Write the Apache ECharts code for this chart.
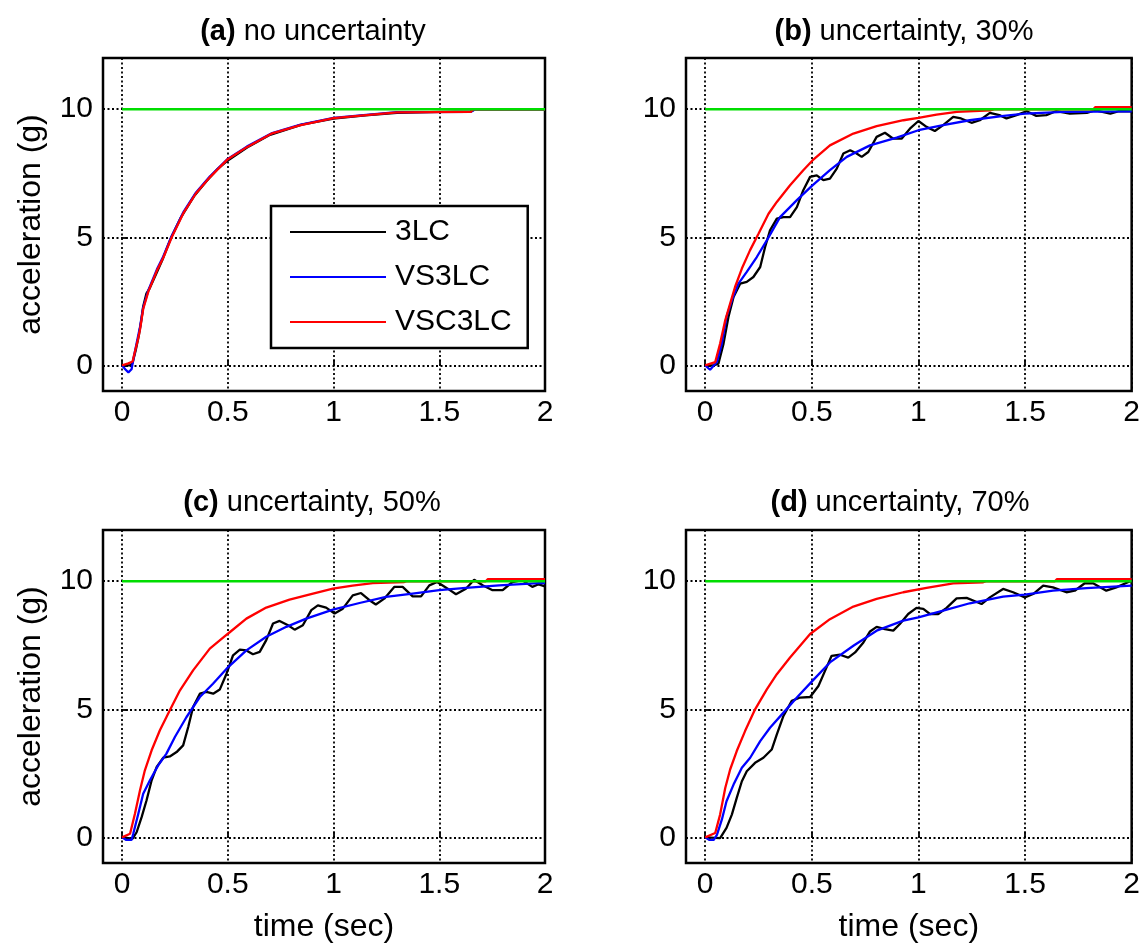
<!DOCTYPE html>
<html><head><meta charset="utf-8">
<script src="https://cdn.jsdelivr.net/npm/echarts@6/dist/echarts.min.js"></script>
<style>html,body{margin:0;padding:0;background:#fff}#c{width:1143px;height:946px}</style>
</head><body><div id="c"></div>
<script>
const xTicks = [0, 0.5, 1, 1.5, 2];
const yTicks = [0, 5, 10];
const panelTags = ['(a)', '(b)', '(c)', '(d)'];
const panelTitles = ['no uncertainty', 'uncertainty, 30%', 'uncertainty, 50%', 'uncertainty, 70%'];
const seriesNames = ['3LC', 'VS3LC', 'VSC3LC'];
const reference = [[0, 10], [2, 10]];

// (a) no uncertainty
const a3LC = [[0,0],[0.04,0],[0.05,0.1],[0.065,0.6],[0.08,1.2],[0.09,1.7],[0.1,2.3],[0.115,2.8],[0.13,3.0],[0.16,3.55],[0.19,4.1],[0.23,4.95],[0.28,5.8],[0.34,6.6],[0.4,7.2],[0.45,7.65],[0.5,8.0],[0.6,8.55],[0.7,9.0],[0.85,9.4],[1.0,9.63],[1.15,9.76],[1.3,9.86],[1.5,9.9],[1.65,9.92],[1.67,10],[2,10]];
const aVS3LC = [[0,0],[0.015,-0.15],[0.03,-0.27],[0.045,-0.15],[0.055,0.3],[0.07,0.9],[0.085,1.5],[0.1,2.25],[0.125,2.95],[0.165,3.75],[0.195,4.25],[0.235,5.05],[0.29,5.98],[0.35,6.75],[0.415,7.37],[0.5,8.06],[0.59,8.54],[0.71,9.07],[0.84,9.39],[1.0,9.66],[1.155,9.78],[1.3,9.89],[1.65,9.9],[1.67,10],[2,10]];
const aVSC3LC = [[0,0],[0.03,0.08],[0.05,0.15],[0.06,0.5],[0.075,1.0],[0.085,1.4],[0.1,2.2],[0.125,2.9],[0.165,3.7],[0.195,4.2],[0.235,5.0],[0.29,5.94],[0.35,6.72],[0.415,7.34],[0.5,8.05],[0.59,8.52],[0.71,9.06],[0.84,9.37],[1.0,9.65],[1.155,9.77],[1.3,9.88],[1.65,9.9],[1.66,10],[2,10]];

// (b) uncertainty 30%
const b3LC = [[0,0],[0.04,0],[0.062,0.07],[0.086,0.85],[0.109,1.89],[0.133,2.67],[0.164,3.19],[0.195,3.26],[0.226,3.45],[0.258,3.84],[0.281,4.62],[0.304,5.27],[0.336,5.73],[0.367,5.79],[0.398,5.79],[0.43,6.18],[0.46,6.84],[0.492,7.36],[0.523,7.42],[0.554,7.23],[0.585,7.29],[0.617,7.68],[0.648,8.27],[0.68,8.4],[0.71,8.27],[0.734,8.14],[0.765,8.33],[0.804,8.92],[0.843,9.08],[0.882,8.85],[0.921,8.85],[0.96,9.24],[1.0,9.54],[1.038,9.31],[1.077,9.15],[1.116,9.38],[1.163,9.7],[1.2,9.64],[1.249,9.47],[1.288,9.57],[1.335,9.86],[1.38,9.77],[1.413,9.64],[1.46,9.77],[1.507,9.92],[1.553,9.74],[1.6,9.77],[1.647,9.93],[1.71,9.83],[1.79,9.86],[1.83,9.96],[1.9,9.83],[1.94,9.93],[2,9.92]];
const bVS3LC = [[0,0],[0.023,-0.17],[0.055,0.13],[0.078,0.85],[0.1,1.89],[0.125,2.54],[0.156,3.19],[0.195,3.65],[0.242,4.23],[0.289,4.88],[0.351,5.79],[0.43,6.45],[0.503,7.03],[0.585,7.62],[0.664,8.14],[0.773,8.59],[0.898,8.89],[1.0,9.18],[1.116,9.38],[1.24,9.57],[1.4,9.74],[1.5,9.83],[1.68,9.9],[2,9.92]];
const bVSC3LC = [[0,0],[0.047,0.13],[0.07,0.85],[0.094,1.76],[0.117,2.41],[0.14,3.06],[0.172,3.78],[0.21,4.49],[0.25,5.14],[0.297,5.92],[0.336,6.38],[0.398,7.03],[0.46,7.62],[0.503,8.0],[0.585,8.59],[0.695,9.05],[0.804,9.34],[0.93,9.57],[1.0,9.66],[1.085,9.79],[1.18,9.9],[1.34,9.96],[1.36,10],[1.82,10],[1.83,10.08],[2,10.08]];

// (c) uncertainty 50%
const c3LC = [[0,0],[0.05,-0.05],[0.069,0.2],[0.093,0.8],[0.116,1.45],[0.14,2.23],[0.164,2.75],[0.195,3.11],[0.226,3.16],[0.258,3.33],[0.289,3.59],[0.313,4.31],[0.336,5.09],[0.368,5.61],[0.399,5.68],[0.431,5.61],[0.462,5.77],[0.494,6.39],[0.525,7.11],[0.557,7.33],[0.588,7.3],[0.619,7.15],[0.651,7.24],[0.682,7.7],[0.714,8.35],[0.745,8.45],[0.785,8.28],[0.816,8.11],[0.855,8.28],[0.895,8.87],[0.926,9.06],[0.965,8.97],[1.005,8.74],[1.044,8.93],[1.091,9.45],[1.13,9.54],[1.17,9.26],[1.2,9.09],[1.24,9.32],[1.288,9.78],[1.327,9.78],[1.374,9.41],[1.414,9.41],[1.453,9.84],[1.49,9.97],[1.54,9.71],[1.579,9.49],[1.626,9.71],[1.665,10.06],[1.705,9.84],[1.752,9.65],[1.8,9.65],[1.846,9.97],[1.893,10.04],[1.94,9.78],[1.97,9.88],[2,9.8]];
const cVS3LC = [[0,0],[0.02,-0.1],[0.045,-0.1],[0.053,0.14],[0.077,0.92],[0.1,1.7],[0.132,2.23],[0.171,2.81],[0.21,3.27],[0.25,3.92],[0.305,4.7],[0.368,5.48],[0.43,6.0],[0.502,6.65],[0.588,7.3],[0.682,7.83],[0.777,8.22],[0.871,8.54],[0.997,8.89],[1.123,9.15],[1.248,9.39],[1.374,9.52],[1.5,9.65],[1.626,9.74],[1.783,9.84],[1.97,9.93],[2,9.93]];
const cVSC3LC = [[0,0],[0.038,0.14],[0.061,0.92],[0.085,1.84],[0.108,2.62],[0.14,3.4],[0.179,4.18],[0.226,4.96],[0.274,5.74],[0.336,6.52],[0.415,7.37],[0.502,7.96],[0.588,8.54],[0.682,8.97],[0.792,9.28],[0.903,9.52],[0.997,9.71],[1.09,9.83],[1.186,9.93],[1.335,9.97],[1.35,10],[1.72,10],[1.73,10.08],[2,10.08]];

// (d) uncertainty 70%
const d3LC = [[0,0],[0.07,-0.03],[0.1,0.37],[0.125,0.89],[0.148,1.54],[0.172,2.19],[0.195,2.58],[0.234,2.91],[0.273,3.11],[0.312,3.43],[0.336,4.02],[0.367,4.74],[0.406,5.33],[0.445,5.46],[0.492,5.48],[0.531,5.91],[0.562,6.5],[0.593,7.09],[0.632,7.13],[0.671,7.02],[0.703,7.22],[0.742,7.61],[0.773,8.04],[0.804,8.22],[0.843,8.13],[0.882,8.07],[0.913,8.33],[0.952,8.72],[0.991,8.96],[1.023,8.92],[1.054,8.72],[1.093,8.72],[1.132,8.96],[1.179,9.33],[1.226,9.35],[1.265,9.22],[1.296,9.11],[1.335,9.37],[1.397,9.7],[1.444,9.57],[1.499,9.37],[1.538,9.5],[1.585,9.83],[1.631,9.76],[1.694,9.57],[1.733,9.63],[1.78,9.92],[1.819,9.92],[1.881,9.63],[1.928,9.76],[1.99,9.99],[2,10]];
const dVS3LC = [[0,0],[0.02,-0.1],[0.04,-0.1],[0.055,0.1],[0.078,0.69],[0.1,1.41],[0.133,2.06],[0.172,2.72],[0.211,3.11],[0.258,3.76],[0.304,4.28],[0.367,4.87],[0.43,5.46],[0.503,6.11],[0.585,6.83],[0.695,7.48],[0.804,8.07],[0.929,8.46],[1.0,8.59],[1.116,8.85],[1.241,9.14],[1.397,9.4],[1.499,9.48],[1.631,9.63],[1.788,9.73],[2,9.83]];
const dVSC3LC = [[0,0],[0.047,0.17],[0.07,0.89],[0.094,1.93],[0.117,2.65],[0.148,3.37],[0.187,4.15],[0.234,5.0],[0.289,5.78],[0.336,6.37],[0.398,7.02],[0.492,7.94],[0.585,8.52],[0.695,9.01],[0.804,9.31],[0.929,9.57],[1.038,9.74],[1.163,9.92],[1.304,9.96],[1.32,10],[1.64,10],[1.65,10.08],[2,10.08]];

const panels = [
  [a3LC, aVS3LC, aVSC3LC],
  [b3LC, bVS3LC, bVSC3LC],
  [c3LC, cVS3LC, cVSC3LC],
  [d3LC, dVS3LC, dVSC3LC]
];
const colors = ['#000000', '#0000ff', '#ff0000'];
const refColor = '#00dd00';
const FONT = '"Liberation Sans", Arial, sans-serif';

const grids = [
  {left: 103, top: 58, width: 442, height: 333},
  {left: 686, top: 58, width: 446, height: 333},
  {left: 103, top: 530, width: 442, height: 333},
  {left: 686, top: 530, width: 446, height: 333}
];
const titleX = [308, 899, 307, 895];
const titleY = [12, 12, 483, 483];

const option = {
  animation: false,
  backgroundColor: '#fff',
  title: panelTags.map((tag, i) => ({
    text: '{b|' + tag + '} ' + panelTitles[i],
    left: titleX[i], top: titleY[i], textAlign: 'center',
    textStyle: {fontSize: 29, fontWeight: 'normal', color: '#000', fontFamily: FONT,
      rich: {b: {fontSize: 29, fontWeight: 'bold', color: '#000', fontFamily: FONT}}}
  })),
  legend: {
    data: seriesNames, orient: 'vertical', left: 271, top: 206,
    backgroundColor: '#fff', borderColor: '#000', borderWidth: 2.5, borderRadius: 0,
    padding: [11, 16, 11, 19], itemGap: 15, itemWidth: 96, itemHeight: 2, icon: 'rect',
    selectedMode: false,
    textStyle: {fontSize: 30, color: '#000', fontFamily: FONT, lineHeight: 30, padding: [0, 0, 0, 4]}
  },
  grid: grids.map(g => Object.assign({show: true, borderColor: '#000', borderWidth: 2.5, backgroundColor: 'transparent', containLabel: false}, g)),
  xAxis: grids.map((g, i) => ({
    type: 'value', gridIndex: i, min: -0.09, max: 2,
    name: i >= 2 ? 'time (sec)' : '', nameLocation: 'middle', nameGap: 48,
    nameTextStyle: {fontSize: 32, color: '#000', fontFamily: FONT},
    axisLine: {show: false},
    axisTick: {show: true, inside: true, length: 6, customValues: xTicks, lineStyle: {color: '#000', width: 1.8}},
    axisLabel: {customValues: xTicks, fontSize: 30, color: '#000', fontFamily: FONT, margin: 7,
      formatter: v => String(v)},
    splitLine: {show: true, lineStyle: {color: '#000', width: 1.8, type: [2, 2.5]}}
  })),
  yAxis: grids.map((g, i) => ({
    type: 'value', gridIndex: i, min: -1, max: 12,
    name: (i % 2 === 0) ? 'acceleration (g)' : '', nameLocation: 'middle', nameGap: 56,
    nameTextStyle: {fontSize: 32, color: '#000', fontFamily: FONT},
    axisLine: {show: false},
    axisTick: {show: true, inside: true, length: 6, customValues: yTicks, lineStyle: {color: '#000', width: 1.8}},
    axisLabel: {customValues: yTicks, fontSize: 30, color: '#000', fontFamily: FONT, margin: 10},
    splitLine: {show: true, lineStyle: {color: '#000', width: 1.8, type: [2, 2.5]}}
  })),
  series: []
};

panels.forEach((curves, i) => {
  curves.forEach((data, k) => {
    option.series.push({
      type: 'line', name: seriesNames[k], xAxisIndex: i, yAxisIndex: i, data: data,
      showSymbol: false, symbol: 'none', silent: true, emphasis: {disabled: true},
      color: colors[k], lineStyle: {color: colors[k], width: 2.3}, z: 2 + k
    });
  });
  option.series.push({
    type: 'line', name: 'reference', xAxisIndex: i, yAxisIndex: i, data: reference,
    showSymbol: false, symbol: 'none', silent: true, emphasis: {disabled: true},
    color: refColor, lineStyle: {color: refColor, width: 2.5}, z: 6
  });
});

const chart = echarts.init(document.getElementById('c'), null, {renderer: 'canvas'});
chart.setOption(option);
</script>
</body></html>
